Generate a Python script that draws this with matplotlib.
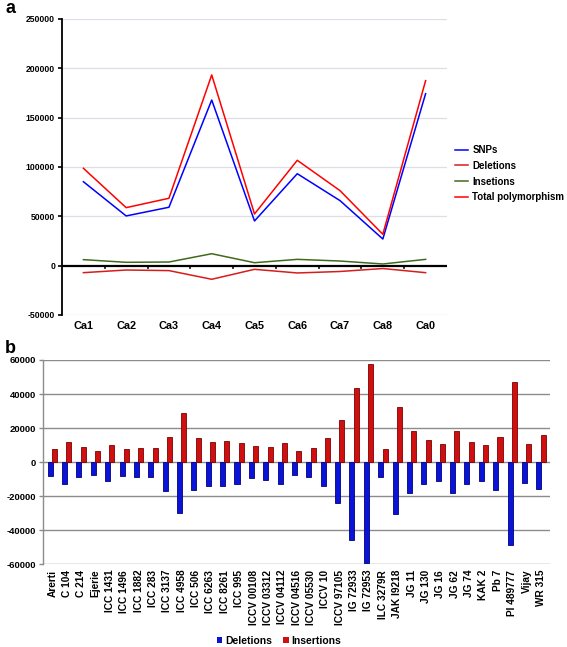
import matplotlib
matplotlib.use("Agg")
import matplotlib.pyplot as plt
import numpy as np
from matplotlib.patches import Patch

plt.rcParams['font.family'] = ['Liberation Sans', 'DejaVu Sans']
plt.rcParams['font.weight'] = 'bold'

# ---- Panel a data ----
chroms = ["Ca1", "Ca2", "Ca3", "Ca4", "Ca5", "Ca6", "Ca7", "Ca8", "Ca0"]
snps = [85100, 50400, 59200, 167900, 45300, 93200, 65900, 27000, 174300]
deletions_a = [-7100, -4400, -5000, -13800, -3700, -7400, -5900, -2900, -7100]
insertions_a = [6100, 3400, 3700, 12100, 3000, 6400, 4700, 1700, 6400]
total = [98700, 58800, 68300, 193300, 52400, 106800, 76000, 31800, 187500]
yticks_a = [-50000, 0, 50000, 100000, 150000, 200000, 250000]

# ---- Panel b data ----
genotypes = ["Arerti", "C 104", "C 214", "Ejerie", "ICC 1431", "ICC 1496", "ICC 1882",
             "ICC 283", "ICC 3137", "ICC 4958", "ICC 506", "ICC 6263", "ICC 8261",
             "ICC 995", "ICCV 00108", "ICCV 03312", "ICCV 04112", "ICCV 04516",
             "ICCV 05530", "ICCV 10", "ICCV 97105", "IG 72933", "IG 72953",
             "ILC 3279R", "JAK I9218", "JG 11", "JG 130", "JG 16", "JG 62", "JG 74",
             "KAK 2", "Pb 7", "PI 489777", "Vijay", "WR 315"]
deletions_b = [-8300, -12800, -9000, -7300, -10800, -8300, -9000, -8900, -17100,
               -30100, -16100, -14000, -14200, -12800, -9200, -10200, -12600, -7300,
               -8900, -14200, -24200, -45800, -59500, -8500, -30500, -17900, -13000,
               -10800, -18300, -12600, -11000, -16100, -48600, -12200, -15500]
insertions_b = [7700, 11800, 8800, 6500, 10200, 7900, 8500, 8500, 14700, 29000,
                14300, 11800, 12200, 11200, 9200, 9000, 11200, 6500, 8300, 14000,
                25000, 43300, 57400, 7500, 32100, 18300, 13000, 10600, 18500, 11600,
                9800, 14500, 46800, 10800, 16100]
yticks_b = [-60000, -40000, -20000, 0, 20000, 40000, 60000]

W, H = 567, 647
fig = plt.figure(figsize=(W / 100, H / 100), dpi=100)

# ================= Panel a =================
axa = fig.add_axes([62 / W, 1 - 315 / H, 385 / W, 296 / H])
x = np.arange(len(chroms))
axa.set_xlim(-0.5, len(chroms) - 0.5)
axa.set_ylim(-50000, 250000)
for v in yticks_a:
    if v != 0:
        axa.axhline(v, color='#dcdde6', lw=0.9, zorder=0)
axa.axhline(0, color='black', lw=1.6, zorder=3)
# tick marks between categories on the zero line
for b in np.arange(0.5, len(chroms) - 0.5, 1):
    axa.plot([b, b], [0, -2500], color='black', lw=1.2, zorder=3, clip_on=False)

l1, = axa.plot(x, snps, color='#0000ff', lw=1.1, zorder=4)
l2, = axa.plot(x, deletions_a, color='#d81c1c', lw=1.1, zorder=4)
l3, = axa.plot(x, insertions_a, color='#3f6a1e', lw=1.1, zorder=4)
l4, = axa.plot(x, total, color='#ff0000', lw=1.1, zorder=4)

for s in ['top', 'right', 'bottom']:
    axa.spines[s].set_visible(False)
axa.spines['left'].set_linewidth(1.3)
axa.spines['left'].set_color('black')
axa.set_yticks(yticks_a)
axa.set_yticklabels([str(v) for v in yticks_a], fontsize=6.2, fontweight='bold')
axa.tick_params(axis='y', length=3, width=1.2, pad=2)
axa.set_xticks(x)
axa.set_xticklabels(chroms, fontsize=7.8, fontweight='bold')
axa.tick_params(axis='x', length=0, pad=4)

fig.legend([l1, l2, l3, l4], ["SNPs", "Deletions", "Insetions", "Total polymorphism"],
           loc='upper left', bbox_to_anchor=(455 / W, 1 - 145 / H), frameon=False,
           prop={'size': 7, 'weight': 'bold'}, handlelength=1.35, handletextpad=0.45,
           labelspacing=0.6, borderaxespad=0, borderpad=0)

fig.text(5 / W, 1 - 13 / H, "a", fontsize=13, fontweight='bold', ha='left', va='baseline')

# ================= Panel b =================
axb = fig.add_axes([43 / W, 1 - 564.3 / H, 507 / W, 204.3 / H])
xb = np.arange(len(genotypes))
axb.set_xlim(-0.65, 34.63)
axb.set_ylim(-60000, 60000)
for v in yticks_b:
    axb.axhline(v, color='#8c8c8c', lw=1.0, zorder=0)
bw = 0.35
axb.bar(xb - 0.15, deletions_b, width=bw, color='#0a14d8', edgecolor='#00007a',
        lw=0.6, zorder=3, label='Deletions')
axb.bar(xb + 0.15, insertions_b, width=bw, color='#d01010', edgecolor='#7a0000',
        lw=0.6, zorder=3, label='Insertions')
for s in ['top', 'right', 'bottom']:
    axb.spines[s].set_visible(False)
axb.spines['left'].set_color('#8c8c8c')
axb.spines['left'].set_linewidth(1.0)
axb.set_yticks(yticks_b)
axb.set_yticklabels([str(v) for v in yticks_b], fontsize=6.8, fontweight='bold')
axb.tick_params(axis='y', length=3, width=1.0, color='#8c8c8c', pad=2)
axb.set_xticks(xb)
axb.set_xticklabels(genotypes, rotation=90, fontsize=7.3, fontweight='bold')
axb.tick_params(axis='x', length=0, pad=4)

handles = [Patch(facecolor='#0a14d8', edgecolor='none'),
           Patch(facecolor='#d01010', edgecolor='none')]
fig.legend(handles, ["Deletions", "Insertions"], loc='center',
           bbox_to_anchor=(279 / W, 1 - 641 / H), ncol=2, frameon=False,
           prop={'size': 7.5, 'weight': 'bold'}, handlelength=0.55, handleheight=0.55,
           handletextpad=0.3, columnspacing=1.0, borderaxespad=0, borderpad=0)

fig.text(5 / W, 1 - 353 / H, "b", fontsize=13, fontweight='bold', ha='left', va='baseline')

fig.savefig("out.png", dpi=100)
